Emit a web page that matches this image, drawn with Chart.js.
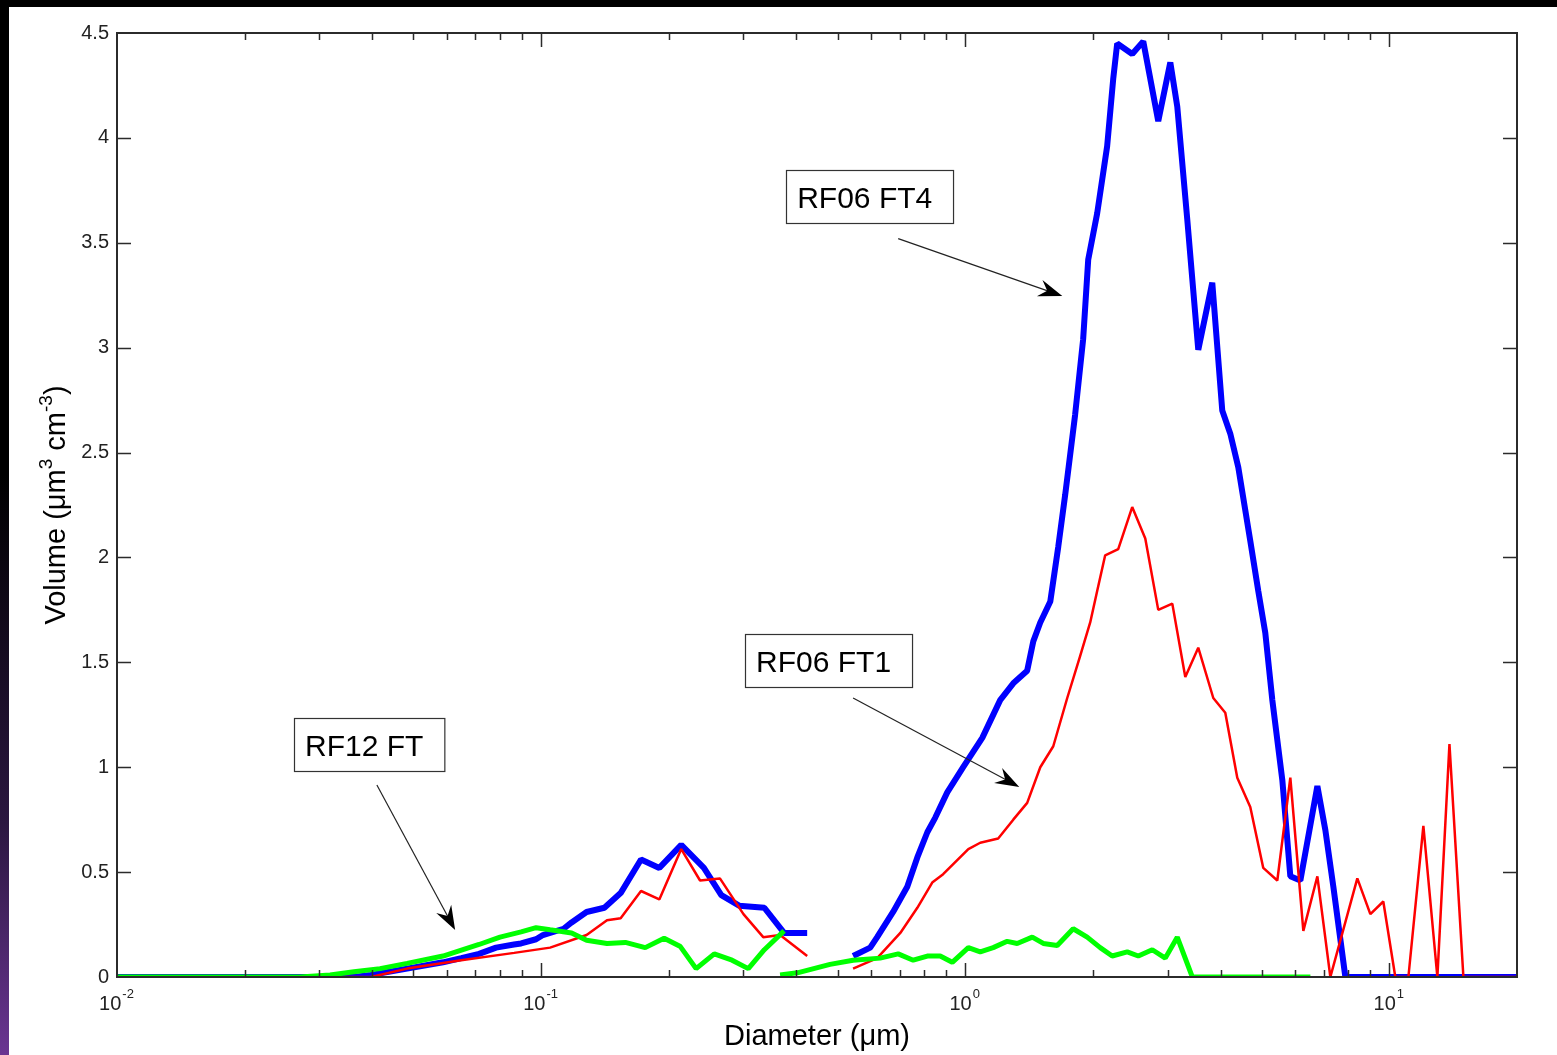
<!DOCTYPE html>
<html>
<head>
<meta charset="utf-8">
<title>Volume size distributions</title>
<script src="https://cdn.jsdelivr.net/npm/chart.js@4.4.1/dist/chart.umd.min.js"></script>
<style>
  html, body { margin: 0; padding: 0; background: #000; }
  body { width: 1557px; height: 1055px; position: relative; overflow: hidden; }
  #edge { position: absolute; left: 0; top: 0; width: 9px; height: 1055px;
          background: linear-gradient(to bottom, #000 0%, #000 45%, #2b1740 78%, #6a3592 100%); }
  #panel { position: absolute; left: 9px; top: 7px; width: 1548px; height: 1048px; background: #fff; }
</style>
</head>
<body>
<div id="edge"></div>
<div id="panel"><canvas id="sizeDist" width="1548" height="1048"></canvas></div>
<script>
// diameters in um, volumes in um^3 cm^-3
// RF06 FT4 (blue) - fine and coarse instrument ranges
const blueFineD = [0.01, 0.0362, 0.0397, 0.0483, 0.0587, 0.0648, 0.0714, 0.0783, 0.0863, 0.0897, 0.0973, 0.101, 0.105, 0.113, 0.118, 0.128, 0.141, 0.154, 0.172, 0.190, 0.214, 0.242, 0.266, 0.293, 0.336, 0.374, 0.424];
const blueFineV = [0, 0, 0.01, 0.04, 0.07, 0.09, 0.11, 0.14, 0.155, 0.16, 0.18, 0.20, 0.21, 0.23, 0.26, 0.31, 0.33, 0.40, 0.56, 0.52, 0.63, 0.52, 0.39, 0.34, 0.33, 0.21, 0.21];
const blueCoarseD = [0.544, 0.597, 0.620, 0.676, 0.730, 0.771, 0.814, 0.850, 0.907, 0.989, 1.097, 1.209, 1.298, 1.400, 1.447, 1.503, 1.587, 1.657, 1.721, 1.816, 1.897, 1.950, 2.047, 2.161, 2.233, 2.282, 2.476, 2.629, 2.852, 3.045, 3.162, 3.339, 3.544, 3.824, 4.037, 4.217, 4.404, 4.700, 4.909, 5.100, 5.298, 5.593, 5.842, 6.169, 6.766, 7.066, 7.380, 7.665, 7.876, 20];
const blueCoarseV = [0.10, 0.14, 0.19, 0.31, 0.43, 0.57, 0.69, 0.76, 0.88, 1.0, 1.14, 1.32, 1.40, 1.46, 1.60, 1.69, 1.79, 2.05, 2.30, 2.68, 3.04, 3.42, 3.64, 3.96, 4.28, 4.45, 4.40, 4.46, 4.08, 4.36, 4.15, 3.61, 2.99, 3.31, 2.70, 2.59, 2.43, 2.08, 1.84, 1.64, 1.32, 0.94, 0.48, 0.46, 0.91, 0.70, 0.43, 0.18, 0, 0];

// RF06 FT1 (red)
const redFineD = [0.01, 0.0397, 0.0483, 0.0648, 0.0864, 0.105, 0.128, 0.143, 0.154, 0.172, 0.190, 0.214, 0.237, 0.264, 0.300, 0.334, 0.366, 0.424];
const redFineV = [0, 0, 0.04, 0.08, 0.115, 0.14, 0.20, 0.27, 0.28, 0.41, 0.37, 0.61, 0.46, 0.47, 0.30, 0.19, 0.20, 0.10];
const redCoarseD = [0.544, 0.620, 0.703, 0.771, 0.836, 0.887, 1.017, 1.085, 1.196, 1.298, 1.400, 1.503, 1.613, 1.740, 1.866, 1.971, 2.047, 2.138, 2.295, 2.476, 2.658, 2.852, 3.078, 3.303, 3.544, 3.845, 4.104, 4.380, 4.700, 5.044, 5.443, 5.842, 6.270, 6.766, 7.260, 8.405, 9.021, 9.678, 10.33, 11.09, 12.03, 12.98, 13.86, 14.95, 20];
const redCoarseV = [0.04, 0.09, 0.21, 0.33, 0.45, 0.49, 0.61, 0.64, 0.66, 0.75, 0.83, 1.0, 1.10, 1.33, 1.53, 1.69, 1.84, 2.01, 2.04, 2.24, 2.09, 1.75, 1.78, 1.43, 1.57, 1.33, 1.26, 0.95, 0.81, 0.52, 0.46, 0.95, 0.22, 0.48, 0, 0.47, 0.30, 0.36, 0, 0, 0.72, 0, 1.11, 0, 0];

// RF12 FT (green)
const greenFineD = [0.01, 0.027, 0.0318, 0.0362, 0.0417, 0.0483, 0.0587, 0.0714, 0.080, 0.0897, 0.0973, 0.105, 0.118, 0.128, 0.143, 0.158, 0.176, 0.195, 0.213, 0.232, 0.256, 0.282, 0.308, 0.336, 0.374];
const greenFineV = [0, 0, 0.01, 0.025, 0.04, 0.065, 0.10, 0.155, 0.19, 0.215, 0.235, 0.225, 0.21, 0.175, 0.16, 0.165, 0.14, 0.185, 0.145, 0.04, 0.11, 0.08, 0.04, 0.13, 0.22];
const greenCoarseD = [0.366, 0.402, 0.480, 0.544, 0.630, 0.695, 0.754, 0.814, 0.873, 0.932, 1.017, 1.085, 1.164, 1.256, 1.326, 1.439, 1.528, 1.648, 1.797, 1.939, 2.081, 2.221, 2.410, 2.559, 2.761, 2.963, 3.162, 3.431, 6.515];
const greenCoarseV = [0.01, 0.02, 0.06, 0.08, 0.09, 0.11, 0.08, 0.10, 0.10, 0.07, 0.14, 0.12, 0.14, 0.17, 0.16, 0.19, 0.16, 0.15, 0.23, 0.19, 0.14, 0.10, 0.12, 0.10, 0.13, 0.09, 0.19, 0, 0];

// axes
const xMin = 0.01, xMax = 20;
const xDecades = [0.01, 0.1, 1, 10];
const xExponents = ['-2', '-1', '0', '1'];
const yMin = 0, yMax = 4.5, yStep = 0.5;

// text boxes: text anchor (left, baseline) and arrow tail -> tip, all in data units
const boxLabels = ['RF06 FT4', 'RF06 FT1', 'RF12 FT'];
const boxAnchor = [[0.4016, 3.665], [0.3213, 1.454], [0.02775, 1.053]];
const arrowFrom = [[0.695, 3.52], [0.544, 1.33], [0.0410, 0.915]];
const arrowTo = [[1.694, 3.246], [1.341, 0.906], [0.0627, 0.224]];

const FONT = '"Liberation Sans", Arial, Helvetica, sans-serif';

function series(ds, vs) {
    return ds.map((d, i) => ({ x: d, y: vs[i] }));
}

function lineSet(label, ds, vs, color, width, order) {
    return {
        label, data: series(ds, vs), showLine: true,
        borderColor: color, backgroundColor: color, borderWidth: width,
        borderJoinStyle: 'bevel', pointRadius: 0, pointHoverRadius: 0,
        tension: 0, fill: false, clip: 0, order
    };
}

// axis box, inward ticks, log labels, titles and callouts
const framePlugin = {
    id: 'frame',
    afterDraw(chart) {
        const { ctx, chartArea: a, scales: { x, y } } = chart;
        ctx.save();

        // ticks
        ctx.strokeStyle = '#2b2b2b';
        ctx.lineWidth = 1.5;
        ctx.beginPath();
        xDecades.forEach(dec => {
            for (let k = 1; k <= 9; k++) {
                const v = dec * k;
                if (v <= xMin || v >= xMax) continue;
                const px = Math.round(x.getPixelForValue(v)) + 0.5;
                const len = k === 1 ? 14 : 7;
                ctx.moveTo(px, a.bottom); ctx.lineTo(px, a.bottom - len);
                ctx.moveTo(px, a.top); ctx.lineTo(px, a.top + len);
            }
        });
        for (let v = yMin + yStep; v < yMax; v += yStep) {
            const py = Math.round(y.getPixelForValue(v)) + 0.5;
            ctx.moveTo(a.left, py); ctx.lineTo(a.left + 14, py);
            ctx.moveTo(a.right, py); ctx.lineTo(a.right - 14, py);
        }
        ctx.stroke();

        // box
        ctx.lineWidth = 2;
        ctx.strokeRect(a.left, a.top, a.right - a.left, a.bottom - a.top);

        // x tick labels 10^n
        ctx.fillStyle = '#222';
        ctx.textBaseline = 'alphabetic';
        ctx.textAlign = 'left';
        xDecades.forEach((dec, i) => {
            const px = x.getPixelForValue(dec);
            ctx.font = '20px ' + FONT;
            const wBase = ctx.measureText('10').width;
            ctx.font = '13px ' + FONT;
            const wExp = ctx.measureText(xExponents[i]).width;
            const left = px - (wBase + wExp) / 2 - 1;
            ctx.font = '20px ' + FONT;
            ctx.fillText('10', left, a.bottom + 33);
            ctx.font = '13px ' + FONT;
            ctx.fillText(xExponents[i], left + wBase + 1, a.bottom + 21);
        });

        // axis titles
        ctx.fillStyle = '#000';
        ctx.font = '29px ' + FONT;
        ctx.textAlign = 'center';
        ctx.fillText('Diameter (\u03bcm)', (a.left + a.right) / 2, a.bottom + 68);

        const parts = [['Volume (\u03bcm', false], ['3', true], [' cm', false], ['-3', true], [')', false]];
        const widths = parts.map(([t, sup]) => {
            ctx.font = (sup ? '19px ' : '29px ') + FONT;
            return ctx.measureText(t).width;
        });
        const total = widths.reduce((s, w) => s + w, 0);
        ctx.save();
        ctx.translate(a.left - 52, (a.top + a.bottom) / 2);
        ctx.rotate(-Math.PI / 2);
        ctx.textAlign = 'left';
        let cx = -total / 2;
        parts.forEach(([t, sup], i) => {
            ctx.font = (sup ? '19px ' : '29px ') + FONT;
            ctx.fillText(t, cx, sup ? -13 : 0);
            cx += widths[i];
        });
        ctx.restore();

        // callout boxes with arrows
        ctx.font = '30px ' + FONT;
        ctx.textAlign = 'left';
        boxLabels.forEach((label, i) => {
            const tx = x.getPixelForValue(boxAnchor[i][0]);
            const ty = y.getPixelForValue(boxAnchor[i][1]);
            const w = ctx.measureText(label).width;
            const bx = Math.round(tx - 11) + 0.5, by = Math.round(ty - 38) + 0.5;
            ctx.fillStyle = '#fff';
            ctx.fillRect(bx, by, w + 32, 53);
            ctx.strokeStyle = '#333';
            ctx.lineWidth = 1.2;
            ctx.strokeRect(bx, by, w + 32, 53);
            ctx.fillStyle = '#000';
            ctx.fillText(label, tx, ty);

            const x0 = x.getPixelForValue(arrowFrom[i][0]), y0 = y.getPixelForValue(arrowFrom[i][1]);
            const x1 = x.getPixelForValue(arrowTo[i][0]), y1 = y.getPixelForValue(arrowTo[i][1]);
            const ang = Math.atan2(y1 - y0, x1 - x0);
            const ux = Math.cos(ang), uy = Math.sin(ang);
            ctx.strokeStyle = '#222';
            ctx.lineWidth = 1.2;
            ctx.beginPath();
            ctx.moveTo(x0, y0);
            ctx.lineTo(x1 - ux * 14, y1 - uy * 14);
            ctx.stroke();
            ctx.fillStyle = '#000';
            ctx.beginPath();
            ctx.moveTo(x1, y1);
            ctx.lineTo(x1 - ux * 24 - uy * 8.5, y1 - uy * 24 + ux * 8.5);
            ctx.lineTo(x1 - ux * 16, y1 - uy * 16);
            ctx.lineTo(x1 - ux * 24 + uy * 8.5, y1 - uy * 24 - ux * 8.5);
            ctx.closePath();
            ctx.fill();
        });

        ctx.restore();
    }
};

new Chart(document.getElementById('sizeDist'), {
    type: 'scatter',
    data: {
        datasets: [
            lineSet('RF12 FT', greenFineD, greenFineV, '#00ff00', 5, 0),
            lineSet('RF12 FT', greenCoarseD, greenCoarseV, '#00ff00', 5, 0),
            lineSet('RF06 FT1', redFineD, redFineV, '#ff0000', 2.5, 1),
            lineSet('RF06 FT1', redCoarseD, redCoarseV, '#ff0000', 2.5, 1),
            lineSet('RF06 FT4', blueFineD, blueFineV, '#0000ff', 6, 2),
            lineSet('RF06 FT4', blueCoarseD, blueCoarseV, '#0000ff', 6, 2)
        ]
    },
    options: {
        responsive: false,
        animation: false,
        events: [],
        layout: { padding: { top: 26, right: 40, left: 0, bottom: 0 } },
        plugins: { legend: { display: false }, tooltip: { enabled: false } },
        scales: {
            x: {
                type: 'logarithmic', position: 'bottom', min: xMin, max: xMax,
                grid: { display: false, drawTicks: false },
                border: { display: false },
                ticks: { display: false },
                afterFit: s => { s.height = 78; }
            },
            y: {
                type: 'linear', position: 'left', min: yMin, max: yMax,
                grid: { display: false, drawTicks: false },
                border: { display: false },
                ticks: {
                    stepSize: yStep, padding: 8, color: '#222',
                    font: { family: FONT, size: 20 },
                    callback: v => String(v)
                },
                afterFit: s => { s.width = 108; }
            }
        }
    },
    plugins: [framePlugin]
});
</script>
</body>
</html>
